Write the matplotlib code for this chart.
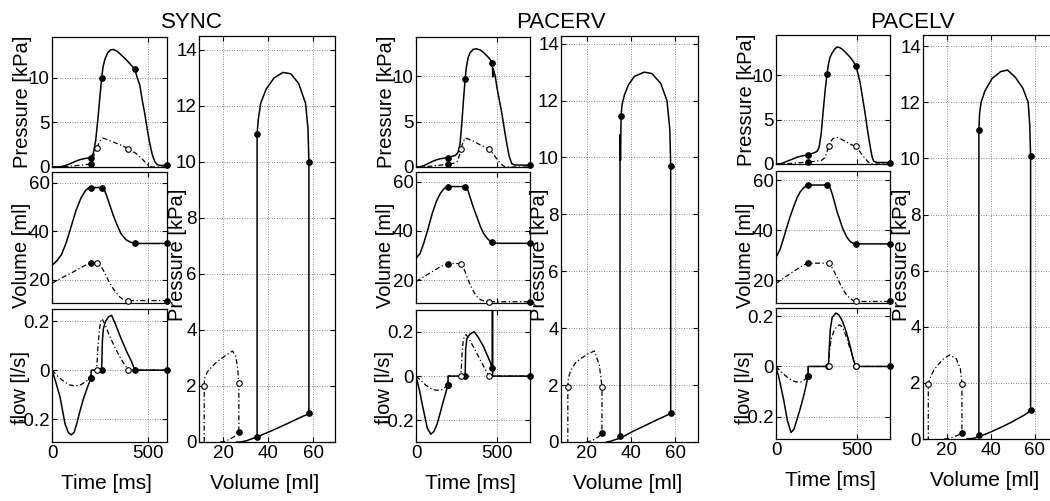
import numpy as np
import matplotlib
matplotlib.use('Agg')
import matplotlib.pyplot as plt

W, H = 1050, 501
plt.rcParams['font.family'] = ['Liberation Sans', 'DejaVu Sans']

# ---------------- SYNC ----------------
sync_t_lv = [0, 25, 50, 75, 100, 125, 150, 175, 190, 203, 215, 228, 240, 250, 259, 266, 276, 290, 305, 320,
             340, 360, 385, 410, 432, 445, 458, 470, 484, 497, 510, 523, 536, 550, 565, 600]
sync_p_lv = [0, 0, 0.05, 0.2, 0.42, 0.66, 0.85, 0.97, 1.0, 1.05, 1.5, 3.0, 5.5, 7.9, 10.0, 11.2, 12.1, 12.8, 13.15, 13.2,
             13.0, 12.6, 12.1, 11.5, 11.0, 10.0, 9.2, 7.6, 6.0, 4.2, 2.66, 1.4, 0.6, 0.25, 0.18, 0.18]
sync_v_lv = [26, 27.8, 30.5, 35.5, 42, 48.5, 53.5, 56.8, 57.8, 58, 58, 58, 58, 58, 58, 57.6, 56.5, 53.5, 50, 46.5,
             42.5, 39.0, 36.6, 35.5, 35.0, 35, 35, 35, 35, 35, 35, 35, 35, 35, 35, 35]
sync_t_rv = [0, 50, 100, 150, 180, 203, 213, 223, 233, 245, 255, 267, 285, 302, 320, 337, 355, 371, 385, 398,
             420, 440, 460, 475, 490, 505, 520, 600]
sync_p_rv = [0, 0.02, 0.1, 0.2, 0.28, 0.34, 0.9, 1.6, 2.1, 2.7, 3.05, 3.25, 3.1, 2.95, 2.8, 2.65, 2.5, 2.35, 2.2, 2.0,
             1.75, 1.5, 1.1, 0.8, 0.45, 0.15, 0.0, 0.0]
sync_v_rv = [18.6, 20.8, 22.8, 25.0, 26.3, 26.9, 26.9, 26.9, 26.9, 26.3, 25.5, 24.1, 21.2, 18.6, 16.3, 14.5, 12.9,
             12.0, 11.6, 11.5, 11.5, 11.5, 11.5, 11.5, 11.5, 11.5, 11.5, 11.5]
sync_tq_lv = [0, 20, 42, 68, 85, 99, 115, 129, 145, 163, 185, 203, 205, 259, 263, 268, 280, 295, 311, 330, 360,
              390, 415, 432, 600]
sync_q_lv = [0, -0.05, -0.11, -0.22, -0.255, -0.265, -0.255, -0.22, -0.17, -0.12, -0.07, -0.034, 0, 0, 0.12,
             0.17, 0.2, 0.218, 0.224, 0.19, 0.13, 0.075, 0.035, 0, 0]
sync_tq_rv = [0, 30, 60, 90, 120, 150, 180, 203, 205, 233, 240, 248, 255, 262, 280, 300, 330, 360, 385, 398, 600]
sync_q_rv = [0, -0.025, -0.045, -0.06, -0.065, -0.06, -0.045, -0.032, 0, 0, 0.1, 0.17, 0.2, 0.21, 0.18, 0.14,
             0.09, 0.045, 0.015, 0, 0]
sync_ev_lv = [203, 259, 432, 600]
sync_ev_rv = [203, 233, 398, 600]
sync_evq_lv = [203, 259, 432, 600]
sync_evq_rv = [203, 233, 398]

# ---------------- PACERV ----------------
pacerv_t_lv = [0, 25, 50, 75, 100, 125, 150, 175, 197, 220, 245, 260, 272, 282, 292, 304, 312, 322, 335, 355,
               375, 400, 420, 440, 458, 472, 475, 478, 490, 500, 515, 531, 546, 561, 576, 592, 610, 705]
pacerv_p_lv = [0, 0.03, 0.15, 0.38, 0.6, 0.78, 0.9, 0.98, 1.03, 1.15, 1.3, 1.6, 2.5, 4.5, 7.0, 9.7, 11.0, 12.0,
               12.6, 12.95, 13.0, 12.85, 12.55, 12.2, 11.85, 11.47, 9.9, 10.8, 10.0, 8.8, 7.4, 5.9, 4.2, 2.6, 1.2,
               0.37, 0.22, 0.2]
pacerv_v_lv = [29, 30.8, 35.5, 41, 47, 51.8, 55.2, 57.3, 58, 58, 58, 58, 58, 58, 58, 58, 57.6, 56.3, 53.5, 49.5,
               46, 41.5, 38.8, 37, 35.9, 35.5, 35.2, 35.0, 35, 35, 35, 35, 35, 35, 35, 35, 35, 35]
pacerv_t_rv = [0, 50, 100, 150, 175, 197, 230, 255, 267, 278, 290, 304, 320, 340, 360, 380, 400, 425, 452, 475,
               495, 515, 535, 551, 705]
pacerv_p_rv = [0, 0.03, 0.1, 0.2, 0.26, 0.3, 0.4, 0.6, 1.2, 1.95, 2.7, 3.2, 3.1, 2.95, 2.8, 2.6, 2.4, 2.2, 1.95,
               1.5, 1.0, 0.55, 0.2, 0.0, 0.0]
pacerv_v_rv = [19.5, 21.5, 23.5, 25.5, 26.3, 26.8, 26.8, 26.8, 26.8, 26.8, 25.6, 23.4, 20.5, 17.5, 15.0, 13.2,
               12.1, 11.5, 11.3, 11.3, 11.3, 11.3, 11.3, 11.3, 11.3]
pacerv_tq_lv = [0, 20, 47, 70, 92, 110, 130, 150, 170, 186, 197, 199, 304, 307, 315, 335, 360, 385, 417, 440,
                458, 472, 473, 474, 705]
pacerv_q_lv = [0, -0.06, -0.156, -0.235, -0.262, -0.25, -0.217, -0.165, -0.11, -0.07, -0.04, 0, 0, 0.12, 0.17,
               0.19, 0.2, 0.175, 0.134, 0.095, 0.065, 0.035, 0.4, 0, 0]
pacerv_tq_rv = [0, 30, 60, 90, 120, 150, 175, 197, 199, 278, 285, 292, 300, 310, 330, 360, 397, 425, 452, 705]
pacerv_q_rv = [0, -0.02, -0.04, -0.055, -0.063, -0.064, -0.055, -0.038, 0, 0, 0.1, 0.16, 0.18, 0.187, 0.165,
               0.125, 0.073, 0.035, 0, 0]
pacerv_ev_lv = [197, 304, 472, 705]
pacerv_ev_rv = [197, 278, 452, 705]
pacerv_evq_lv = [197, 304, 472, 705]
pacerv_evq_rv = [197, 278, 452]

# ---------------- PACELV ----------------
pacelv_t_lv = [0, 26, 50, 67, 90, 108, 130, 149, 170, 196, 225, 251, 265, 278, 290, 302, 313, 322, 332, 345,
               360, 374, 390, 410, 435, 455, 472, 490, 503, 517, 532, 547, 562, 578, 590, 600, 620, 700]
pacelv_p_lv = [0, 0.03, 0.17, 0.3, 0.47, 0.6, 0.76, 0.86, 0.95, 1.03, 1.2, 1.4, 1.9, 3.5, 6.0, 8.3, 10.1, 11.2,
               12.0, 12.5, 12.9, 13.15, 13.1, 12.85, 12.4, 12.0, 11.6, 11.0, 10.2, 9.1, 7.4, 5.7, 3.8, 2.0, 0.8,
               0.3, 0.18, 0.15]
pacelv_v_lv = [29, 32.5, 37.5, 41.3, 46, 49.3, 53, 55.3, 56.9, 58, 58, 58, 58, 58, 58, 58, 58, 57.6, 56.9, 54.5,
               51, 47.5, 44.5, 40.5, 37.2, 35.5, 34.8, 34.5, 34.5, 34.5, 34.5, 34.5, 34.5, 34.5, 34.5, 34.5,
               34.5, 34.5]
pacelv_t_rv = [0, 50, 100, 150, 175, 196, 240, 280, 300, 312, 323, 335, 350, 374, 395, 414, 435, 455, 472, 490,
               510, 530, 550, 565, 578, 700]
pacelv_p_rv = [0, 0.02, 0.08, 0.15, 0.19, 0.22, 0.3, 0.42, 0.7, 1.3, 1.97, 2.5, 2.85, 3.0, 2.85, 2.65, 2.45,
               2.25, 2.1, 1.97, 1.5, 1.0, 0.55, 0.25, 0.0, 0.0]
pacelv_v_rv = [18.7, 21, 23.2, 25.3, 26.2, 26.8, 26.8, 26.8, 26.8, 26.8, 26.8, 26.1, 24.3, 21.3, 18.3, 16, 14,
               12.7, 12.0, 11.5, 11.5, 11.5, 11.5, 11.5, 11.5, 11.5]
pacelv_tq_lv = [0, 20, 47, 70, 92, 110, 129, 150, 169, 185, 196, 198, 322, 326, 333, 345, 368, 385, 404, 425,
                445, 460, 475, 490, 700]
pacelv_q_lv = [0, -0.05, -0.132, -0.215, -0.262, -0.25, -0.21, -0.165, -0.119, -0.075, -0.037, 0, 0, 0.06,
               0.146, 0.195, 0.212, 0.205, 0.185, 0.15, 0.106, 0.068, 0.027, 0, 0]
pacelv_tq_rv = [0, 30, 60, 90, 120, 139, 160, 180, 196, 198, 323, 330, 340, 355, 375, 390, 410, 430, 450, 470,
                490, 700]
pacelv_q_rv = [0, -0.02, -0.038, -0.052, -0.061, -0.063, -0.06, -0.05, -0.038, 0, 0, 0.07, 0.11, 0.14, 0.16,
               0.165, 0.155, 0.12, 0.08, 0.04, 0, 0]
pacelv_ev_lv = [196, 313, 490, 700]
pacelv_ev_rv = [196, 323, 490, 700]
pacelv_evq_lv = [196, 322, 490, 700]
pacelv_evq_rv = [196, 323, 490]

DASHDOT = (0, (4, 2, 1, 2))

fig = plt.figure(figsize=(W / 100, H / 100), dpi=100)


def box(l, t, r, b):
    return [l / W, 1 - b / H, (r - l) / W, (b - t) / H]


def fpt(x, y):
    return x / W, 1 - y / H


def style(ax, xt, yt, xl, yl, xlabels=False):
    ax.set_xlim(xl)
    ax.set_ylim(yl)
    ax.set_xticks(xt)
    ax.set_yticks(yt)
    ax.tick_params(direction='in', top=True, right=True, length=3.5, width=0.8, labelsize=13.5, pad=2.5)
    ax.tick_params(axis='y', pad=1.5)
    if not xlabels:
        ax.set_xticklabels([])
    ax.grid(True, color='0.4', linestyle=(0, (1, 2)), linewidth=0.6)
    for s in ax.spines.values():
        s.set_linewidth(0.9)


def marks(ax, x, y, t, ev, faces):
    idx = np.flatnonzero(np.isin(t, ev))
    for i, fc in zip(idx, faces):
        ax.plot(x[i], y[i], 'o', ms=4, mfc=fc, mec='k', mew=0.8, clip_on=False, zorder=5)


def draw_group(name, d, left, right, rows, ylims, tmax, pvbox, pvlim, title_x):
    t_lv, p_lv, v_lv = map(np.array, (d['t_lv'], d['p_lv'], d['v_lv']))
    t_rv, p_rv, v_rv = map(np.array, (d['t_rv'], d['p_rv'], d['v_rv']))
    tq_lv, q_lv = np.array(d['tq_lv']), np.array(d['q_lv'])
    tq_rv, q_rv = np.array(d['tq_rv']), np.array(d['q_rv'])
    lvf = ['k'] * 4
    rvf = ['k', 'w', 'w', 'k']

    axp = fig.add_axes(box(left, rows[0][0], right, rows[0][1]))
    axp.plot(t_lv, p_lv, 'k-', lw=1.1)
    axp.plot(t_rv, p_rv, color='k', ls=DASHDOT, lw=0.9)
    marks(axp, t_lv, p_lv, t_lv, d['ev_lv'], lvf)
    marks(axp, t_rv, p_rv, t_rv, d['ev_rv'][:3], rvf)
    style(axp, [0, 500], [0, 5, 10], (0, tmax), ylims[0])
    axp.set_ylabel('Pressure [kPa]', fontsize=14.5)
    axp.yaxis.set_label_coords(*fpt(left - 20, (rows[0][0] + rows[0][1]) / 2), transform=fig.transFigure)

    axv = fig.add_axes(box(left, rows[1][0], right, rows[1][1]))
    axv.plot(t_lv, v_lv, 'k-', lw=1.1)
    axv.plot(t_rv, v_rv, color='k', ls=DASHDOT, lw=0.9)
    marks(axv, t_lv, v_lv, t_lv, d['ev_lv'], lvf)
    marks(axv, t_rv, v_rv, t_rv, d['ev_rv'], rvf)
    style(axv, [0, 500], [20, 40, 60], (0, tmax), ylims[1])
    axv.set_ylabel('Volume [ml]', fontsize=14.5)
    axv.yaxis.set_label_coords(*fpt(left - 21, 255), transform=fig.transFigure)

    axq = fig.add_axes(box(left, rows[2][0], right, rows[2][1]))
    axq.plot(tq_lv, q_lv, 'k-', lw=1.1)
    axq.plot(tq_rv, q_rv, color='k', ls=DASHDOT, lw=0.9)
    marks(axq, tq_lv, q_lv, tq_lv, d['evq_lv'], lvf)
    marks(axq, tq_rv, q_rv, tq_rv, d['evq_rv'], rvf)
    style(axq, [0, 500], [-0.2, 0, 0.2], (0, tmax), ylims[2], xlabels=True)
    axq.set_yticklabels(['-0.2', '0', '0.2'])
    axq.set_ylabel('flow [l/s]', fontsize=14.5)
    axq.yaxis.set_label_coords(*fpt(left - 22, 388), transform=fig.transFigure)
    axq.set_xlabel('Time [ms]', fontsize=15)
    axq.xaxis.set_label_coords(*fpt((left + right) / 2 - 3, rows[2][1] + 32), transform=fig.transFigure)

    axpv = fig.add_axes(box(*pvbox))
    axpv.plot(v_lv, p_lv, 'k-', lw=1.1)
    axpv.plot(v_rv, p_rv, color='k', ls=DASHDOT, lw=0.9)
    marks(axpv, v_lv, p_lv, t_lv, d['ev_lv'], lvf)
    marks(axpv, v_rv, p_rv, t_rv, d['ev_rv'][:3], rvf)
    style(axpv, [20, 40, 60], list(range(0, 15, 2)), pvlim[0], pvlim[1], xlabels=True)
    axpv.set_ylabel('Pressure [kPa]', fontsize=14.5)
    axpv.yaxis.set_label_coords(*fpt(pvbox[0] - 12, 255), transform=fig.transFigure)
    axpv.set_xlabel('Volume [ml]', fontsize=15)
    axpv.xaxis.set_label_coords(*fpt((pvbox[0] + min(pvbox[2], W)) / 2 - 2, pvbox[3] + 32),
                                transform=fig.transFigure)

    fig.text(*fpt(title_x, 28), name, ha='center', va='baseline', fontsize=16)


sync = dict(t_lv=sync_t_lv, p_lv=sync_p_lv, v_lv=sync_v_lv, t_rv=sync_t_rv, p_rv=sync_p_rv, v_rv=sync_v_rv,
            tq_lv=sync_tq_lv, q_lv=sync_q_lv, tq_rv=sync_tq_rv, q_rv=sync_q_rv,
            ev_lv=sync_ev_lv, ev_rv=sync_ev_rv, evq_lv=sync_evq_lv, evq_rv=sync_evq_rv)
pacerv = dict(t_lv=pacerv_t_lv, p_lv=pacerv_p_lv, v_lv=pacerv_v_lv, t_rv=pacerv_t_rv, p_rv=pacerv_p_rv,
              v_rv=pacerv_v_rv, tq_lv=pacerv_tq_lv, q_lv=pacerv_q_lv, tq_rv=pacerv_tq_rv, q_rv=pacerv_q_rv,
              ev_lv=pacerv_ev_lv, ev_rv=pacerv_ev_rv, evq_lv=pacerv_evq_lv, evq_rv=pacerv_evq_rv)
pacelv = dict(t_lv=pacelv_t_lv, p_lv=pacelv_p_lv, v_lv=pacelv_v_lv, t_rv=pacelv_t_rv, p_rv=pacelv_p_rv,
              v_rv=pacelv_v_rv, tq_lv=pacelv_tq_lv, q_lv=pacelv_q_lv, tq_rv=pacelv_tq_rv, q_rv=pacelv_q_rv,
              ev_lv=pacelv_ev_lv, ev_rv=pacelv_ev_rv, evq_lv=pacelv_evq_lv, evq_rv=pacelv_evq_rv)

draw_group('SYNC', sync, 52, 167, [(37, 167), (172, 303), (309, 442)],
           [(0, 14.6), (10.5, 64.4), (-0.294, 0.25)], 600,
           (199, 36, 335, 442), [(9.2, 69.6), (0, 14.5)], 192)
draw_group('PACERV', pacerv, 416, 530, [(37, 167), (172, 303), (310, 442)],
           [(0, 14.3), (10.8, 63.9), (-0.297, 0.298)], 705,
           (561, 36, 698, 442), [(8.2, 70.4), (0, 14.27)], 561)
draw_group('PACELV', pacelv, 776, 890, [(35, 164), (171, 303), (308, 439)],
           [(0, 14.5), (10.9, 63.6), (-0.288, 0.232)], 700,
           (923, 35, 1057, 439), [(9.1, 70), (0, 14.4)], 912)

fig.savefig('out.png', dpi=100)
